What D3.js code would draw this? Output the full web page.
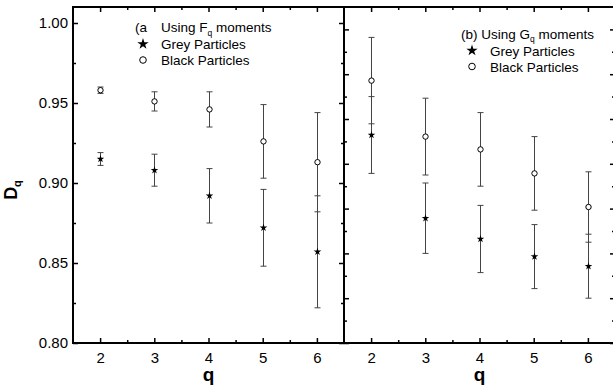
<!DOCTYPE html>
<html>
<head>
<meta charset="utf-8">
<script src="https://cdn.jsdelivr.net/npm/d3@7"></script>
<style>
  body { margin: 0; background: #fff; }
  svg { display: block; font-family: "Liberation Sans", Arial, sans-serif; }
  .tick text { font-size: 15px; fill: #000; }
  .tick line { stroke: #000; stroke-width: 1.5; }
</style>
</head>
<body>
<svg width="613" height="389"></svg>
<script>
// q values, shared by both panels
const qs = [2, 3, 4, 5, 6];

// panel (a): F_q moments
const greyA = [0.915, 0.908, 0.892, 0.872, 0.857],
      greyErrA = [0.004, 0.010, 0.017, 0.024, 0.035],
      blackA = [0.958, 0.951, 0.946, 0.926, 0.913],
      blackErrA = [0.002, 0.006, 0.011, 0.023, 0.031];

// panel (b): G_q moments (read against the left labels)
const greyB = [0.930, 0.878, 0.865, 0.854, 0.848],
      greyErrB = [0.024, 0.022, 0.021, 0.020, 0.020],
      blackB = [0.964, 0.929, 0.921, 0.906, 0.885],
      blackErrB = [0.027, 0.024, 0.023, 0.023, 0.022];

const yTicks = [0.80, 0.85, 0.90, 0.95, 1.00],
      yMinor = [0.825, 0.875, 0.925, 0.975],
      xMinor = [2.5, 3.5, 4.5, 5.5];

// panel (b) has its own unlabeled tick set
const bTicks = [0.80, 0.82, 0.84, 0.86, 0.88, 0.90, 0.92, 0.94],
      bMinor = [0.81, 0.83, 0.85, 0.87, 0.89, 0.91, 0.93];

const svg = d3.select("svg");
const yTop = 7, yBot = 343;

const y = d3.scaleLinear().domain([0.80, 1.01]).range([yBot, yTop]);
const yB = d3.scaleLinear().domain([0.80, 0.95]).range([yBot, yTop]);

const panels = [
  {x0: 73, x1: 344, grey: greyA, greyErr: greyErrA, black: blackA, blackErr: blackErrA,
   tag: "(a", sub: "F", tagX: 135, symX: 143, textX: 161, base: 32, labels: true},
  {x0: 344, x1: 615, grey: greyB, greyErr: greyErrB, black: blackB, blackErr: blackErrB,
   tag: "(b) Using ", sub: "G", tagX: 461, symX: 472, textX: 490, base: 38.5, labels: false}
];

const star = d3.symbol().type(d3.symbolStar);

panels.forEach(p => {
  const x = d3.scaleLinear().domain([1.5, 6.5]).range([p.x0, p.x1]);
  const g = svg.append("g");

  // x axes, bottom and top
  g.append("g").attr("transform", `translate(0,${yBot})`)
    .call(d3.axisBottom(x).tickValues(qs).tickSize(-5).tickPadding(9).tickFormat(d3.format("d")));
  g.append("g").attr("transform", `translate(0,${yBot})`)
    .call(d3.axisBottom(x).tickValues(xMinor).tickSize(-3).tickFormat(""));
  g.append("g").attr("transform", `translate(0,${yTop})`)
    .call(d3.axisTop(x).tickValues(qs).tickSize(-5).tickFormat(""));
  g.append("g").attr("transform", `translate(0,${yTop})`)
    .call(d3.axisTop(x).tickValues(xMinor).tickSize(-3).tickFormat(""));

  // y axes
  const ys = p.labels ? y : yB,
        major = p.labels ? yTicks : bTicks,
        minor = p.labels ? yMinor : bMinor;
  g.append("g").attr("transform", `translate(${p.x0},0)`)
    .call(d3.axisLeft(ys).tickValues(major).tickSize(-5).tickPadding(5)
      .tickFormat(p.labels ? d3.format(".2f") : ""));
  g.append("g").attr("transform", `translate(${p.x0},0)`)
    .call(d3.axisLeft(ys).tickValues(minor).tickSize(-3).tickFormat(""));
  g.append("g").attr("transform", `translate(${p.x1},0)`)
    .call(d3.axisRight(ys).tickValues(major).tickSize(-5).tickFormat(""));
  g.append("g").attr("transform", `translate(${p.x1},0)`)
    .call(d3.axisRight(ys).tickValues(minor).tickSize(-3).tickFormat(""));
  g.selectAll(".domain").remove();

  // frame
  g.append("rect")
    .attr("x", p.x0).attr("y", yTop)
    .attr("width", p.x1 - p.x0).attr("height", yBot - yTop)
    .attr("fill", "none").attr("stroke", "#000").attr("stroke-width", 2);

  // error bars
  const series = [
    {vals: p.black, errs: p.blackErr},
    {vals: p.grey, errs: p.greyErr}
  ];
  series.forEach(s => {
    const eb = g.append("g").attr("stroke", "#444").attr("stroke-width", 1);
    qs.forEach((q, i) => {
      const cx = Math.round(x(q)) + 0.5,
            hi = y(s.vals[i] + s.errs[i]),
            lo = y(s.vals[i] - s.errs[i]);
      eb.append("line").attr("x1", cx).attr("x2", cx).attr("y1", hi).attr("y2", lo);
      eb.append("line").attr("x1", cx - 3).attr("x2", cx + 3).attr("y1", hi).attr("y2", hi);
      eb.append("line").attr("x1", cx - 3).attr("x2", cx + 3).attr("y1", lo).attr("y2", lo);
    });
  });

  // markers
  g.selectAll(".blk").data(qs).join("circle")
    .attr("cx", (d) => Math.round(x(d)) + 0.5)
    .attr("cy", (d, i) => y(p.black[i]))
    .attr("r", 2.7)
    .attr("fill", "#fff").attr("stroke", "#000").attr("stroke-width", 1);
  g.selectAll(".gry").data(qs).join("path")
    .attr("d", star.size(18))
    .attr("transform", (d, i) => `translate(${Math.round(x(d)) + 0.5},${y(p.grey[i])})`)
    .attr("fill", "#000");

  // legend
  const lg = g.append("g").attr("font-size", 13.5).attr("fill", "#000");
  const t = lg.append("text").attr("x", p.tagX).attr("y", p.base);
  if (p.labels) {
    t.text(p.tag);
    lg.append("text").attr("x", p.textX).attr("y", p.base)
      .call(tt => {
        tt.append("tspan").text("Using " + p.sub);
        tt.append("tspan").attr("font-size", 8.5).attr("dy", 3.5).text("q");
        tt.append("tspan").attr("dy", -3.5).text(" moments");
      });
  } else {
    t.append("tspan").text(p.tag + p.sub);
    t.append("tspan").attr("font-size", 8.5).attr("dy", 3.5).text("q");
    t.append("tspan").attr("dy", -3.5).text(" moments");
  }
  lg.append("path").attr("d", star.size(40))
    .attr("transform", `translate(${p.symX},${p.base + 12})`);
  lg.append("text").attr("x", p.textX).attr("y", p.base + 17).text("Grey Particles");
  lg.append("circle").attr("cx", p.symX).attr("cy", p.base + 28).attr("r", 3.3)
    .attr("fill", "#fff").attr("stroke", "#000").attr("stroke-width", 1);
  lg.append("text").attr("x", p.textX).attr("y", p.base + 33).text("Black Particles");

  // x label
  g.append("text")
    .attr("x", (p.x0 + p.x1) / 2)
    .attr("y", 381)
    .attr("text-anchor", "middle")
    .attr("font-size", 19).attr("font-weight", "bold")
    .text("q");
});

// y label
svg.append("text")
  .attr("transform", "translate(17,190) rotate(-90)")
  .attr("text-anchor", "middle")
  .attr("font-size", 18).attr("font-weight", "bold")
  .call(tt => {
    tt.append("tspan").text("D");
    tt.append("tspan").attr("font-size", 11).attr("dy", 4).text("q");
  });
</script>
</body>
</html>
